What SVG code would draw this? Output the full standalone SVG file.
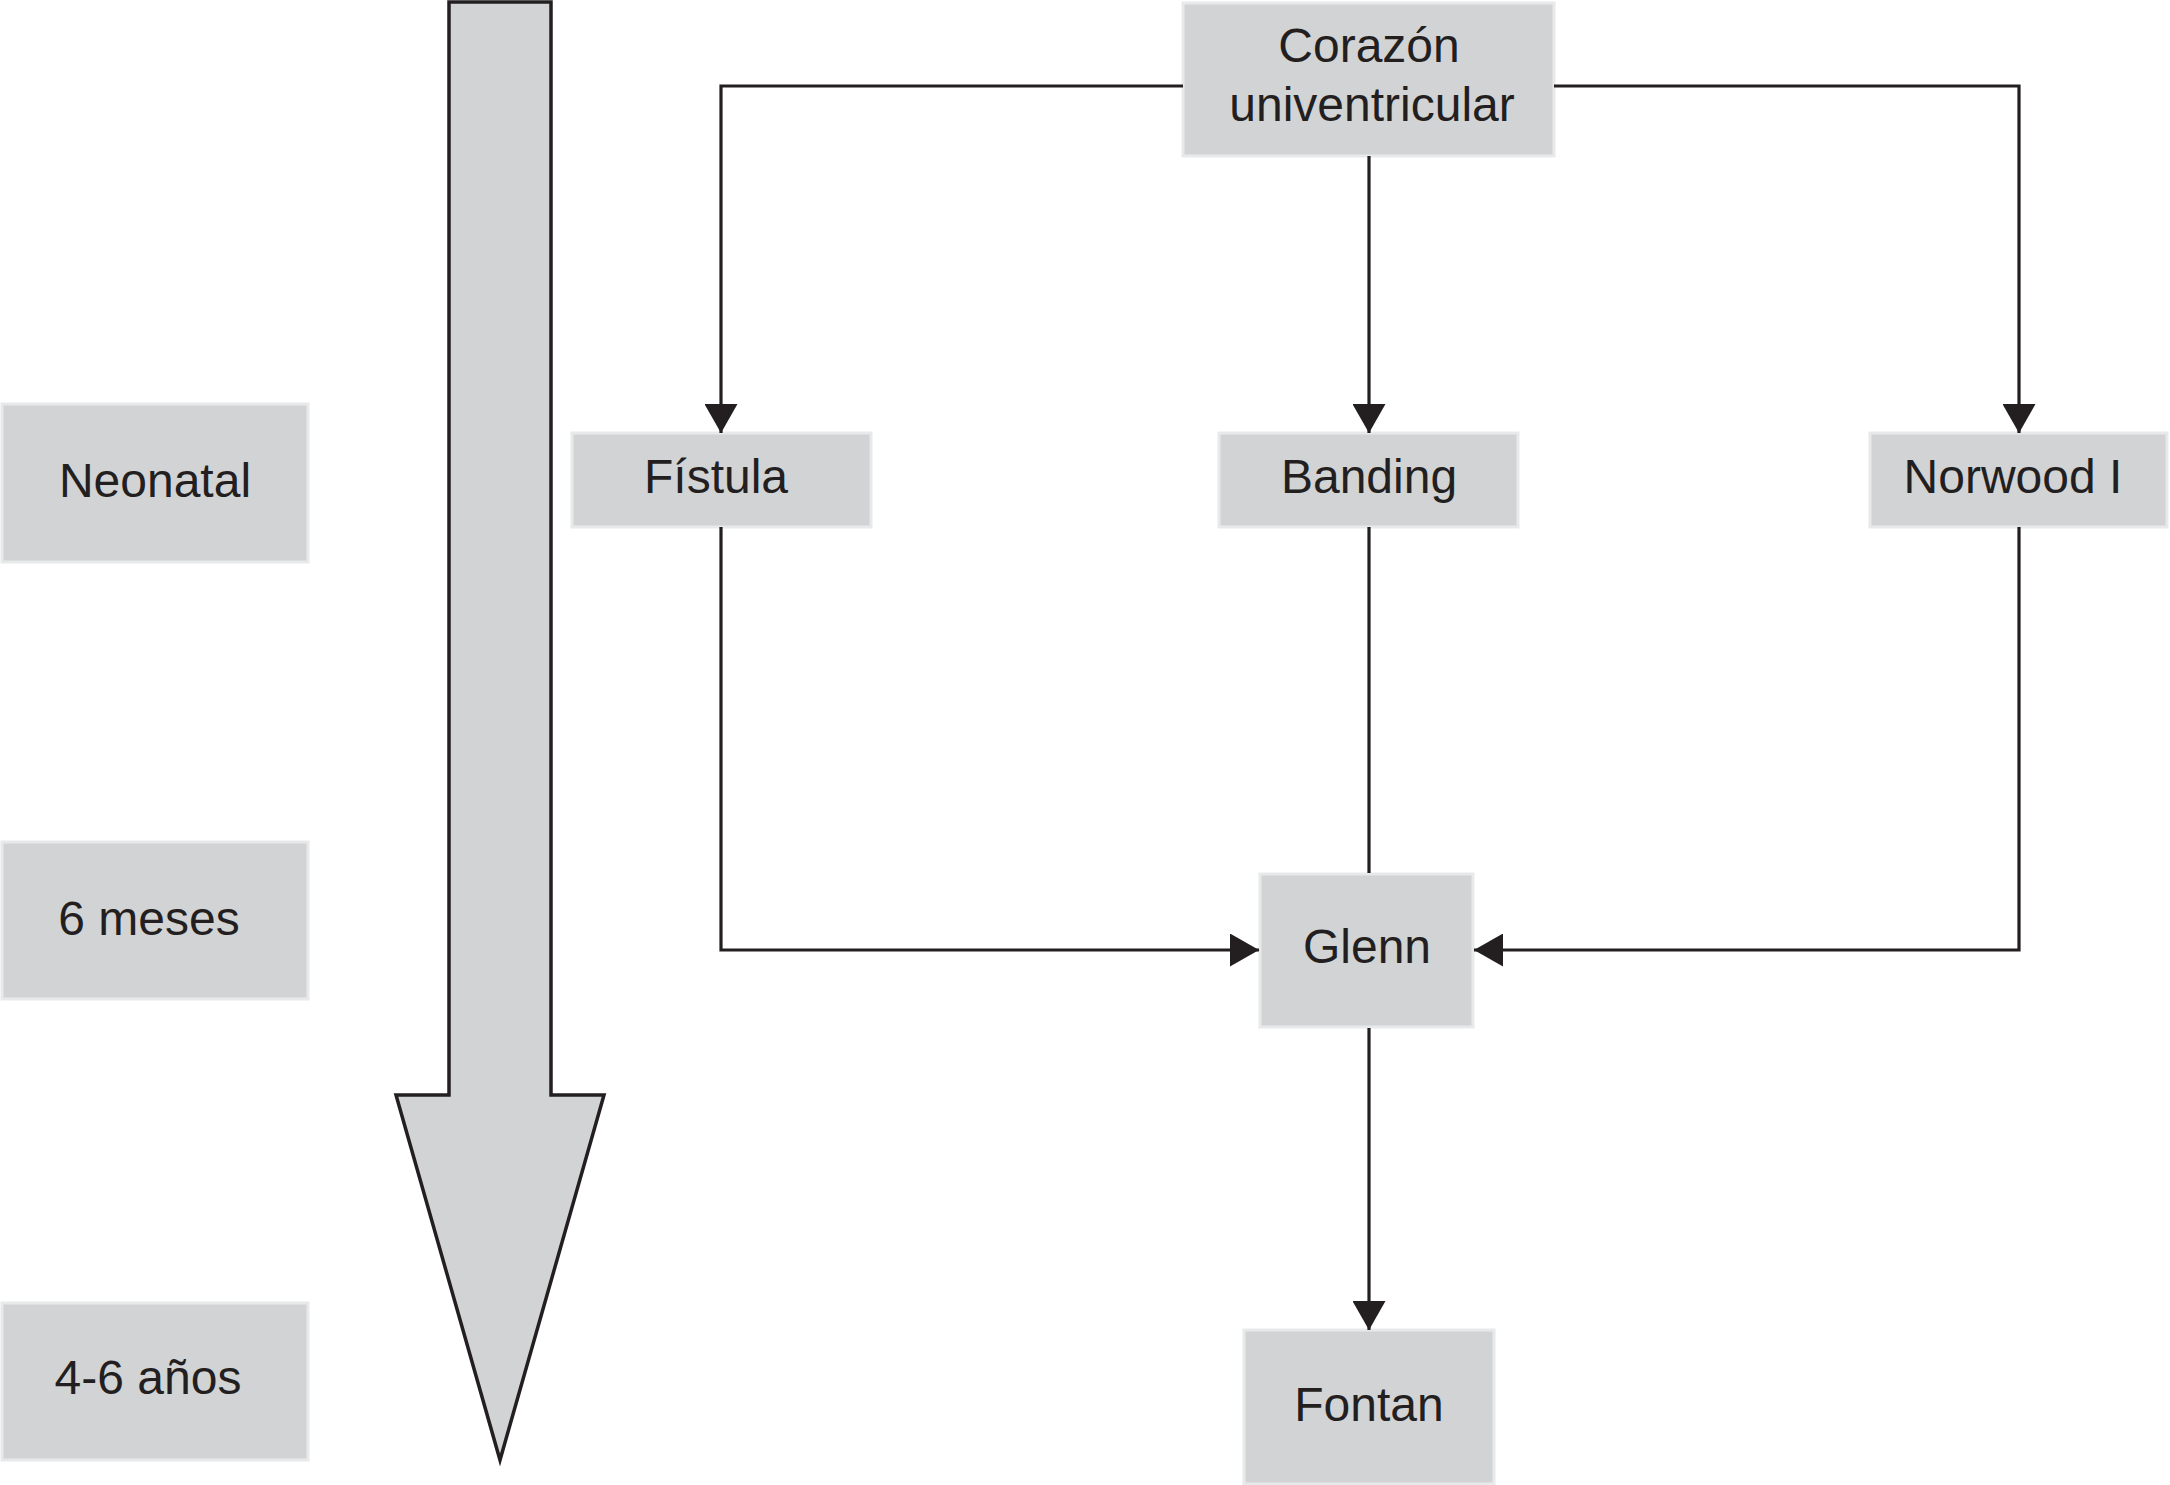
<svg xmlns="http://www.w3.org/2000/svg" width="2170" height="1485" viewBox="0 0 2170 1485">
<style>
.box{fill:#d2d3d5;stroke:#e8e9ea;stroke-width:3}
.lbl{font-family:"Liberation Sans",Arial,Helvetica,sans-serif;font-size:48px;fill:#231f20;text-anchor:middle}
.con{fill:none;stroke:#231f20;stroke-width:3.2}
</style>
<defs>
<marker id="ah" viewBox="0 0 29 33" refX="29" refY="16.5" markerWidth="29" markerHeight="33" markerUnits="userSpaceOnUse" orient="auto">
<path d="M0,0 L29,16.5 L0,33 z" fill="#231f20"/>
</marker>
</defs>
<rect width="2170" height="1485" fill="#ffffff"/>
<g id="timeline-arrow">
<polygon points="449,2 551,2 551,1095 604,1095 500,1460 396,1095 449,1095" fill="#d2d3d5" stroke="#231f20" stroke-width="3.5" stroke-linejoin="miter"/>
</g>
<g id="neonatal"><rect class="box" x="2" y="404" width="306" height="158"/><text class="lbl" x="155" y="497">Neonatal</text></g>
<g id="seis-meses"><rect class="box" x="2" y="842" width="306" height="157"/><text class="lbl" x="149" y="935">6 meses</text></g>
<g id="cuatro-seis-anos"><rect class="box" x="2" y="1303" width="306" height="157"/><text class="lbl" x="148" y="1394">4-6 años</text></g>
<g id="corazon"><rect class="box" x="1183" y="3" width="371" height="153"/><text class="lbl" x="1369" y="62">Corazón</text><text class="lbl" x="1372" y="121">univentricular</text></g>
<g id="fistula"><rect class="box" x="572" y="433" width="299" height="94"/><text class="lbl" x="716" y="493">Fístula</text></g>
<g id="banding"><rect class="box" x="1219" y="433" width="299" height="94"/><text class="lbl" x="1369" y="493">Banding</text></g>
<g id="norwood"><rect class="box" x="1870" y="433" width="297" height="94"/><text class="lbl" x="2013" y="493">Norwood I</text></g>
<g id="glenn"><rect class="box" x="1260" y="874" width="213" height="153"/><text class="lbl" x="1367" y="963">Glenn</text></g>
<g id="fontan"><rect class="box" x="1244" y="1330" width="250" height="154"/><text class="lbl" x="1369" y="1421">Fontan</text></g>
<g id="connectors">
<path class="con" d="M1183,86 H721 V433" marker-end="url(#ah)"/>
<path class="con" d="M1554,86 H2019 V433" marker-end="url(#ah)"/>
<path class="con" d="M1369,156 V433" marker-end="url(#ah)"/>
<path class="con" d="M721,527 V950 H1259" marker-end="url(#ah)"/>
<path class="con" d="M2019,527 V950 H1474" marker-end="url(#ah)"/>
<path class="con" d="M1369,527 V873"/>
<path class="con" d="M1369,1028 V1330" marker-end="url(#ah)"/>
</g>
</svg>
